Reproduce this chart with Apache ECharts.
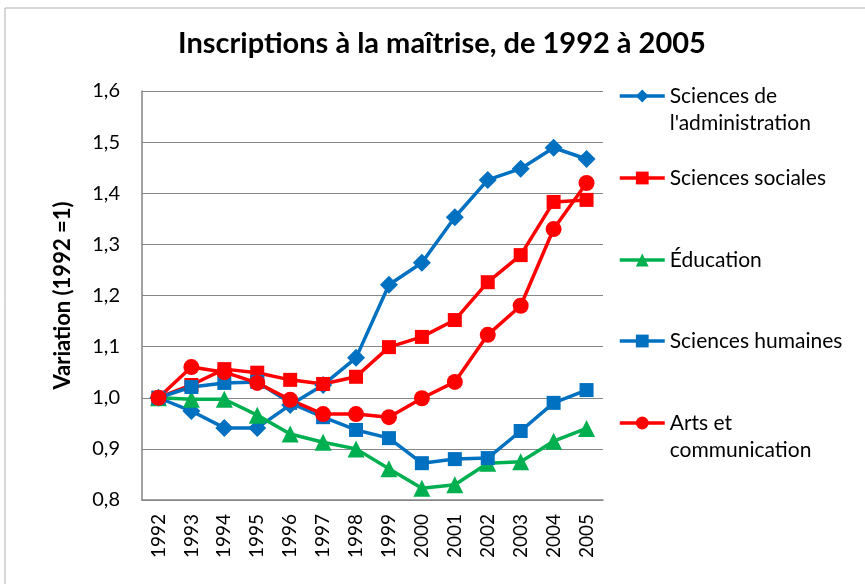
<!DOCTYPE html>
<html>
<head>
<meta charset="utf-8">
<script src="https://cdn.jsdelivr.net/npm/echarts@6/dist/echarts.min.js"></script>
<style>
  html, body { margin: 0; padding: 0; background: #fff; }
  #chart { width: 865px; height: 584px; }
</style>
</head>
<body>
<div id="chart"></div>
<script>
const years = ["1992", "1993", "1994", "1995", "1996", "1997", "1998", "1999", "2000", "2001", "2002", "2003", "2004", "2005"];

const administration = [1.0, 0.974, 0.941, 0.941, 0.986, 1.025, 1.078, 1.221, 1.264, 1.353, 1.426, 1.448, 1.489, 1.467];
const sociales = [1.0, 1.025, 1.056, 1.049, 1.035, 1.027, 1.041, 1.099, 1.119, 1.152, 1.226, 1.279, 1.383, 1.387];
const education = [1.0, 0.997, 0.997, 0.966, 0.929, 0.913, 0.9, 0.861, 0.823, 0.83, 0.872, 0.875, 0.915, 0.94];
const humaines = [1.0, 1.021, 1.029, 1.031, 0.99, 0.962, 0.937, 0.921, 0.872, 0.88, 0.882, 0.935, 0.99, 1.015];
const arts = [1.0, 1.06, 1.05, 1.029, 0.996, 0.968, 0.968, 0.962, 0.999, 1.031, 1.123, 1.18, 1.33, 1.42];

const FONT = "Lato, 'Open Sans', sans-serif";
const BLUE = "#0070C0", RED = "#FF0000", GREEN = "#00B050";

// top = wanted icon centre minus half the text block (27px per line, multi-line names get a blank first line)
const seriesDefs = [
  { name: "Sciences de\nl'administration", data: administration, color: BLUE, symbol: "diamond", size: 18, top: 96 - 40.5, multi: true },
  { name: "Sciences sociales", data: sociales, color: RED, symbol: "rect", size: 14, top: 178 - 13.5 },
  { name: "Éducation", data: education, color: GREEN, symbol: "triangle", size: 17, top: 260 - 13.5 },
  { name: "Sciences humaines", data: humaines, color: BLUE, symbol: "rect", size: 14, top: 341 - 13.5 },
  { name: "Arts et\ncommunication", data: arts, color: RED, symbol: "circle", size: 16, top: 423 - 40.5, multi: true }
];

const legends = seriesDefs.map(s => ({
  data: [s.name],
  orient: "vertical",
  left: 618,
  top: s.top,
  padding: 0,
  itemWidth: 45,
  itemHeight: 16,
  selectedMode: false,
  lineStyle: { width: 3.5 },
  formatter: name => (s.multi ? "\n" + name : name),
  textStyle: { fontFamily: FONT, fontSize: 21, color: "#000", lineHeight: 27 }
}));

const chart = echarts.init(document.getElementById("chart"));
chart.setOption({
  animation: false,
  title: {
    text: "Inscriptions à la maîtrise, de 1992 à 2005",
    left: 178,
    top: 29,
    padding: 0,
    textStyle: { fontFamily: FONT, fontSize: 29, fontWeight: "bold", color: "#000" }
  },
  legend: legends,
  graphic: [{
    type: "rect",
    shape: { x: 5, y: 8, width: 900, height: 620 },
    style: { fill: "none", stroke: "#b0b0b0", lineWidth: 1 },
    silent: true
  }],
  grid: { left: 142, right: 262, top: 91, bottom: 84 },
  xAxis: {
    type: "category",
    data: years,
    boundaryGap: true,
    axisLine: { lineStyle: { color: "#868686", width: 1.5 } },
    axisTick: { show: false },
    axisLabel: { rotate: 90, fontFamily: FONT, fontSize: 19, color: "#000", margin: 14 }
  },
  yAxis: {
    type: "value",
    min: 0.8,
    max: 1.6,
    interval: 0.1,
    name: "Variation (1992 =1)",
    nameLocation: "middle",
    nameGap: 68,
    nameTextStyle: { fontFamily: FONT, fontSize: 22, fontWeight: "bold", color: "#000" },
    axisLine: { show: true, lineStyle: { color: "#868686", width: 1.5 } },
    axisTick: { show: false },
    axisLabel: {
      fontFamily: FONT, fontSize: 20, color: "#000", margin: 22,
      formatter: v => v.toFixed(1).replace(".", ",")
    },
    splitLine: { lineStyle: { color: "#868686", width: 1 } }
  },
  series: seriesDefs.map(s => ({
    name: s.name,
    type: "line",
    data: s.data,
    symbol: s.symbol,
    symbolSize: s.size,
    showAllSymbol: true,
    lineStyle: { color: s.color, width: 3.5 },
    itemStyle: { color: s.color },
    emphasis: { disabled: true }
  }))
});
</script>
</body>
</html>
